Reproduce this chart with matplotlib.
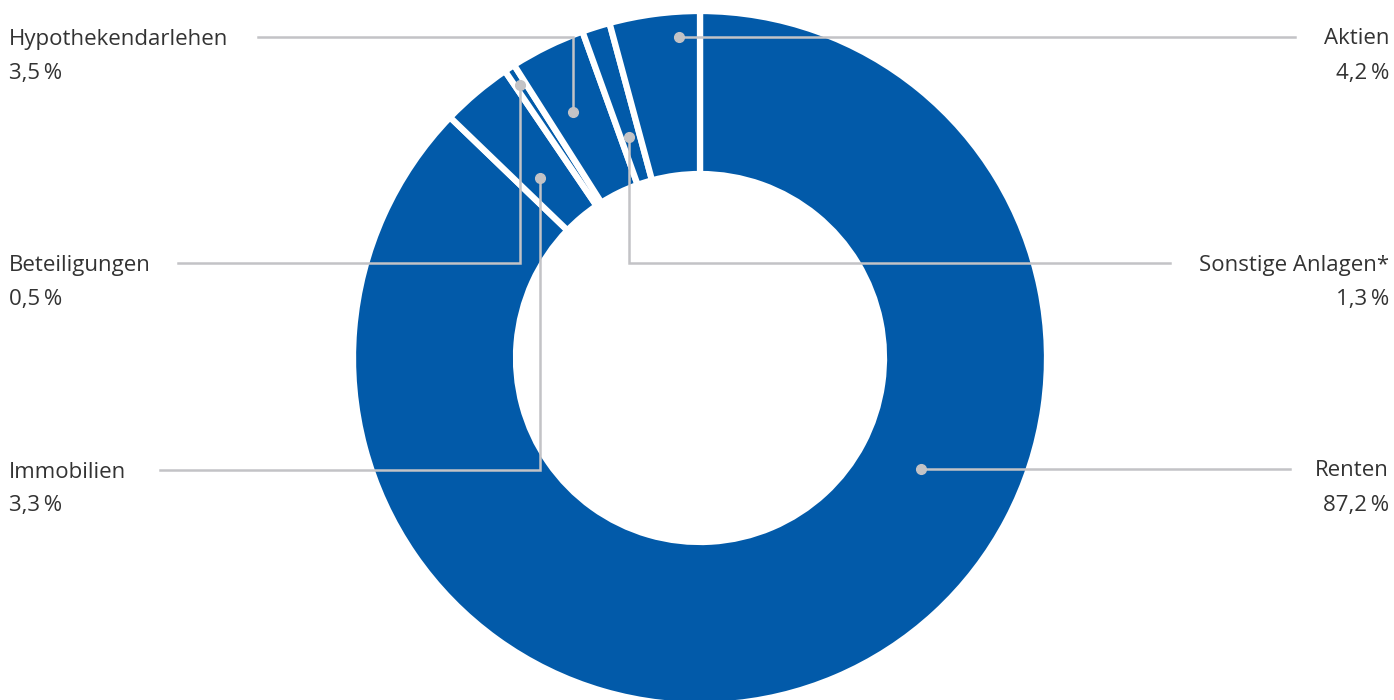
import numpy as np
import matplotlib.pyplot as plt

# Anteile der Kapitalanlagen (im Uhrzeigersinn ab 12 Uhr)
categories = ['Renten', 'Immobilien', 'Beteiligungen', 'Hypothekendarlehen',
              'Sonstige Anlagen*', 'Aktien']
shares = [87.2, 3.3, 0.5, 3.5, 1.3, 4.2]
pct_labels = ['87,2\u2009%', '3,3\u2009%', '0,5\u2009%', '3,5\u2009%', '1,3\u2009%', '4,2\u2009%']

blue = '#025aa9'
grey_line = '#c3c3c6'
text_col = '#333333'

W, H = 1394, 700
cx, cy = 700, H - 358
r_out, r_in = 347, 184

fig = plt.figure(figsize=(W / 100, H / 100), dpi=100)
ax = fig.add_axes([0, 0, 1, 1])
ax.set_xlim(0, W)
ax.set_ylim(0, H)
ax.set_aspect('equal')
ax.axis('off')

wedges, _ = ax.pie(shares, startangle=90, counterclock=False, center=(cx, cy),
                   radius=r_out, colors=[blue] * len(shares),
                   wedgeprops=dict(width=r_out - r_in, edgecolor='white', linewidth=4.5))
ax.set_xlim(0, W)
ax.set_ylim(0, H)

# Layout der Beschriftungen: Punkt (Winkel, Radius), Knick-y, Linienende-x, Seite
layout = {
    'Renten':             (-26.7, 247, 469, 1290, 'right'),
    'Immobilien':         (131.5, 241, 470, 160, 'left'),
    'Beteiligungen':      (123.5, 327, 263, 178, 'left'),
    'Hypothekendarlehen': (117.3, 277, 37, 258, 'left'),
    'Sonstige Anlagen*':  (107.8, 232, 263, 1170, 'right'),
    'Aktien':             (93.7, 322, 37, 1295, 'right'),
}

font = ['Open Sans', 'DejaVu Sans']
for cat, pct in zip(categories, pct_labels):
    ang, rad, ky, lx, side = layout[cat]
    px = cx + rad * np.cos(np.radians(ang))
    py = cy + rad * np.sin(np.radians(ang))
    ky = H - ky
    ax.plot([px, px, lx], [py, ky, ky], color=grey_line, lw=1.8,
            solid_joinstyle='miter', zorder=3)
    ax.plot(px, py, 'o', color=grey_line, ms=7, zorder=4)
    if side == 'left':
        tx, ha = 9, 'left'
    else:
        tx, ha = W - 5, 'right'
    ax.text(tx, ky - 2, cat, ha=ha, va='center', fontsize=16, color=text_col, family=font)
    ax.text(tx, ky - 36, pct, ha=ha, va='center', fontsize=16, color=text_col, family=font)

fig.savefig('out.png', dpi=100)
